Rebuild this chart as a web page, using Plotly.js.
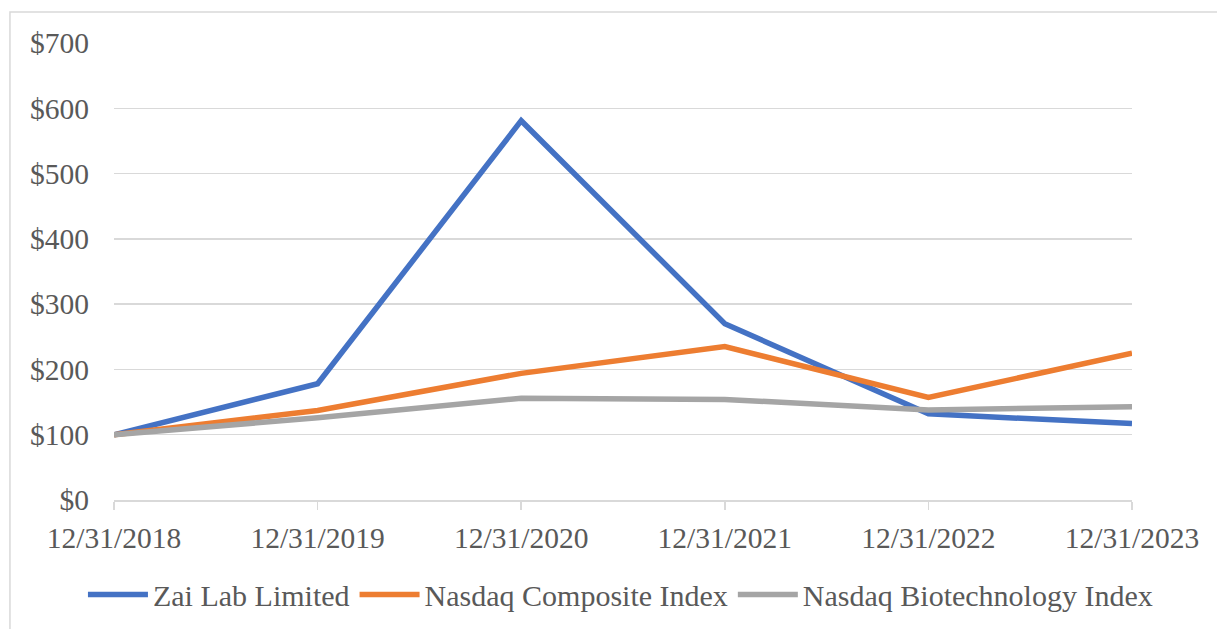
<!DOCTYPE html>
<html>
<head>
<meta charset="utf-8">
<script src="https://cdn.plot.ly/plotly-3.0.1.min.js"></script>
<style>
  html, body { margin: 0; padding: 0; background: #fff; }
  #chart { width: 1217px; height: 629px; }
</style>
</head>
<body>
<div id="chart"></div>
<script>
const dates = ["12/31/2018", "12/31/2019", "12/31/2020", "12/31/2021", "12/31/2022", "12/31/2023"];
const zaiLab = [100, 178, 581, 270, 132, 117];
const nasdaqComposite = [100, 137, 194, 235, 157, 225];
const nasdaqBiotech = [100, 126, 156, 154, 138, 143];
const yTickVals = [0, 100, 200, 300, 400, 500, 600, 700];
const yTickText = yTickVals.map(v => "$" + v);

const font = "Liberation Serif";
const textColor = "#595959";

const mk = (name, y, color) => ({
  type: "scatter", mode: "lines", name: name,
  x: dates, y: y,
  line: { color: color, width: 5.5 },
  hoverinfo: "skip"
});

const data = [
  mk("Zai Lab Limited", zaiLab, "#4472C4"),
  mk("Nasdaq Composite Index", nasdaqComposite, "#ED7D31"),
  mk("Nasdaq Biotechnology Index", nasdaqBiotech, "#A5A5A5")
];

const layout = {
  width: 1217, height: 629,
  margin: { l: 114, r: 85, t: 43, b: 128.5, pad: 0, autoexpand: false },
  paper_bgcolor: "#ffffff", plot_bgcolor: "#ffffff",
  font: { family: font, size: 29.5, color: textColor },
  showlegend: true,
  legend: {
    orientation: "h", x: -0.0305, xanchor: "left", y: -0.207, yanchor: "middle",
    font: { family: font, size: 30, color: textColor },
    itemwidth: 60, tracegroupgap: 0, bgcolor: "rgba(0,0,0,0)"
  },
  xaxis: {
    type: "category", range: [0, 5],
    showgrid: false, zeroline: false,
    showline: true, linecolor: "#d9d9d9", linewidth: 1.5,
    ticks: "outside", ticklen: 8, tickcolor: "#d9d9d9", tickwidth: 1.5,
    ticklabelstandoff: 3,
    tickfont: { family: font, size: 29.5, color: textColor },
    fixedrange: true
  },
  yaxis: {
    range: [0, 700],
    tickvals: yTickVals, ticktext: yTickText,
    showgrid: true, gridcolor: "#d9d9d9", gridwidth: 1.5,
    zeroline: false, showline: false, ticks: "",
    ticklabelstandoff: 24,
    tickfont: { family: font, size: 29.5, color: textColor },
    fixedrange: true
  },
  shapes: [{
    type: "rect", xref: "paper", yref: "paper",
    x0: -0.1022, x1: 1.3, y0: -0.5, y1: 1.068,
    line: { color: "#d9d9d9", width: 1.5 }, fillcolor: "rgba(0,0,0,0)", layer: "below"
  }]
};

Plotly.newPlot("chart", data, layout, { displayModeBar: false, staticPlot: true });
</script>
</body>
</html>
